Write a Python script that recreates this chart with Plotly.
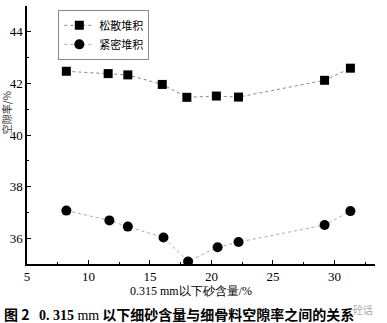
import plotly.graph_objects as go

# Content of fine sand below 0.315 mm (%)
sand_loose = [8.2, 11.6, 13.2, 16.0, 18.0, 20.4, 22.2, 29.2, 31.3]
sand_dense = [8.2, 11.7, 13.2, 16.1, 18.1, 20.5, 22.2, 29.2, 31.3]
# Void ratio (%)
void_loose = [42.47, 42.38, 42.33, 41.96, 41.46, 41.51, 41.47, 42.12, 42.59]
void_dense = [37.07, 36.69, 36.45, 36.03, 35.10, 35.65, 35.85, 36.51, 37.05]

series_names = ["松散堆积", "紧密堆积"]
x_ticks = [5, 10, 15, 20, 25, 30]
y_ticks = [36, 38, 40, 42, 44]

cjk = "Noto Sans CJK SC"
serif = "Liberation Serif"

fig = go.Figure()
fig.add_trace(go.Scatter(
    x=sand_loose, y=void_loose, name=series_names[0], mode="lines+markers",
    line=dict(color="#888888", width=1, dash="dot"),
    marker=dict(symbol="square", size=9, color="black"),
))
fig.add_trace(go.Scatter(
    x=sand_dense, y=void_dense, name=series_names[1], mode="lines+markers",
    line=dict(color="#aaaaaa", width=1, dash="dot"),
    marker=dict(symbol="circle", size=10, color="black"),
))

axis_common = dict(
    showline=True, linecolor="black", linewidth=1.5, mirror=False,
    ticks="inside", ticklen=4, tickcolor="black", tickwidth=1,
    showgrid=False, zeroline=False,
    tickfont=dict(family=serif, size=13, color="black"),
)
fig.update_xaxes(range=[5, 33.3], tickvals=x_ticks,
                 minor=dict(ticks="inside", ticklen=2, dtick=2.5, tick0=5, tickcolor="black"),
                 **axis_common)
fig.update_yaxes(range=[35, 45], tickvals=y_ticks,
                 minor=dict(ticks="inside", ticklen=2, dtick=1, tick0=35, tickcolor="black"),
                 **axis_common)

caption = (
    "<b>图 2</b>   "
    f"<span style='font-family:{serif}'><b>0. 315</b> mm</span> "
    "<b>以下细砂含量与细骨料空隙率之间的关系</b>"
)

fig.update_layout(
    width=387, height=323,
    margin=dict(l=27, r=12, t=6, b=59),
    plot_bgcolor="white", paper_bgcolor="white",
    showlegend=True,
    legend=dict(
        x=0.09, y=0.985, xanchor="left", yanchor="top",
        bgcolor="rgba(0,0,0,0)", bordercolor="#888888", borderwidth=1,
        font=dict(family=cjk, size=11, color="black"),
        tracegroupgap=0, itemwidth=30,
    ),
    annotations=[
        dict(text="空隙率/%", xref="paper", yref="paper", x=-0.06, y=0.585,
             textangle=-90, showarrow=False, xanchor="center", yanchor="middle",
             font=dict(family=cjk, size=10, color="#333333")),
        dict(text="0.315 mm以下砂含量/%", xref="paper", yref="paper", x=0.47, y=-0.07,
             showarrow=False, xanchor="center", yanchor="top",
             font=dict(family=serif, size=12, color="black")),
        dict(text="砼话", xref="paper", yref="paper", x=1.0, y=-0.14,
             showarrow=False, xanchor="right", yanchor="top",
             font=dict(family=cjk, size=10, color="#aaaaaa")),
        dict(text=caption,
             xref="paper", yref="paper", x=-0.072, y=-0.148,
             showarrow=False, xanchor="left", yanchor="top",
             font=dict(family=cjk, size=14, color="black")),
    ],
)

fig.write_html("out.html")
